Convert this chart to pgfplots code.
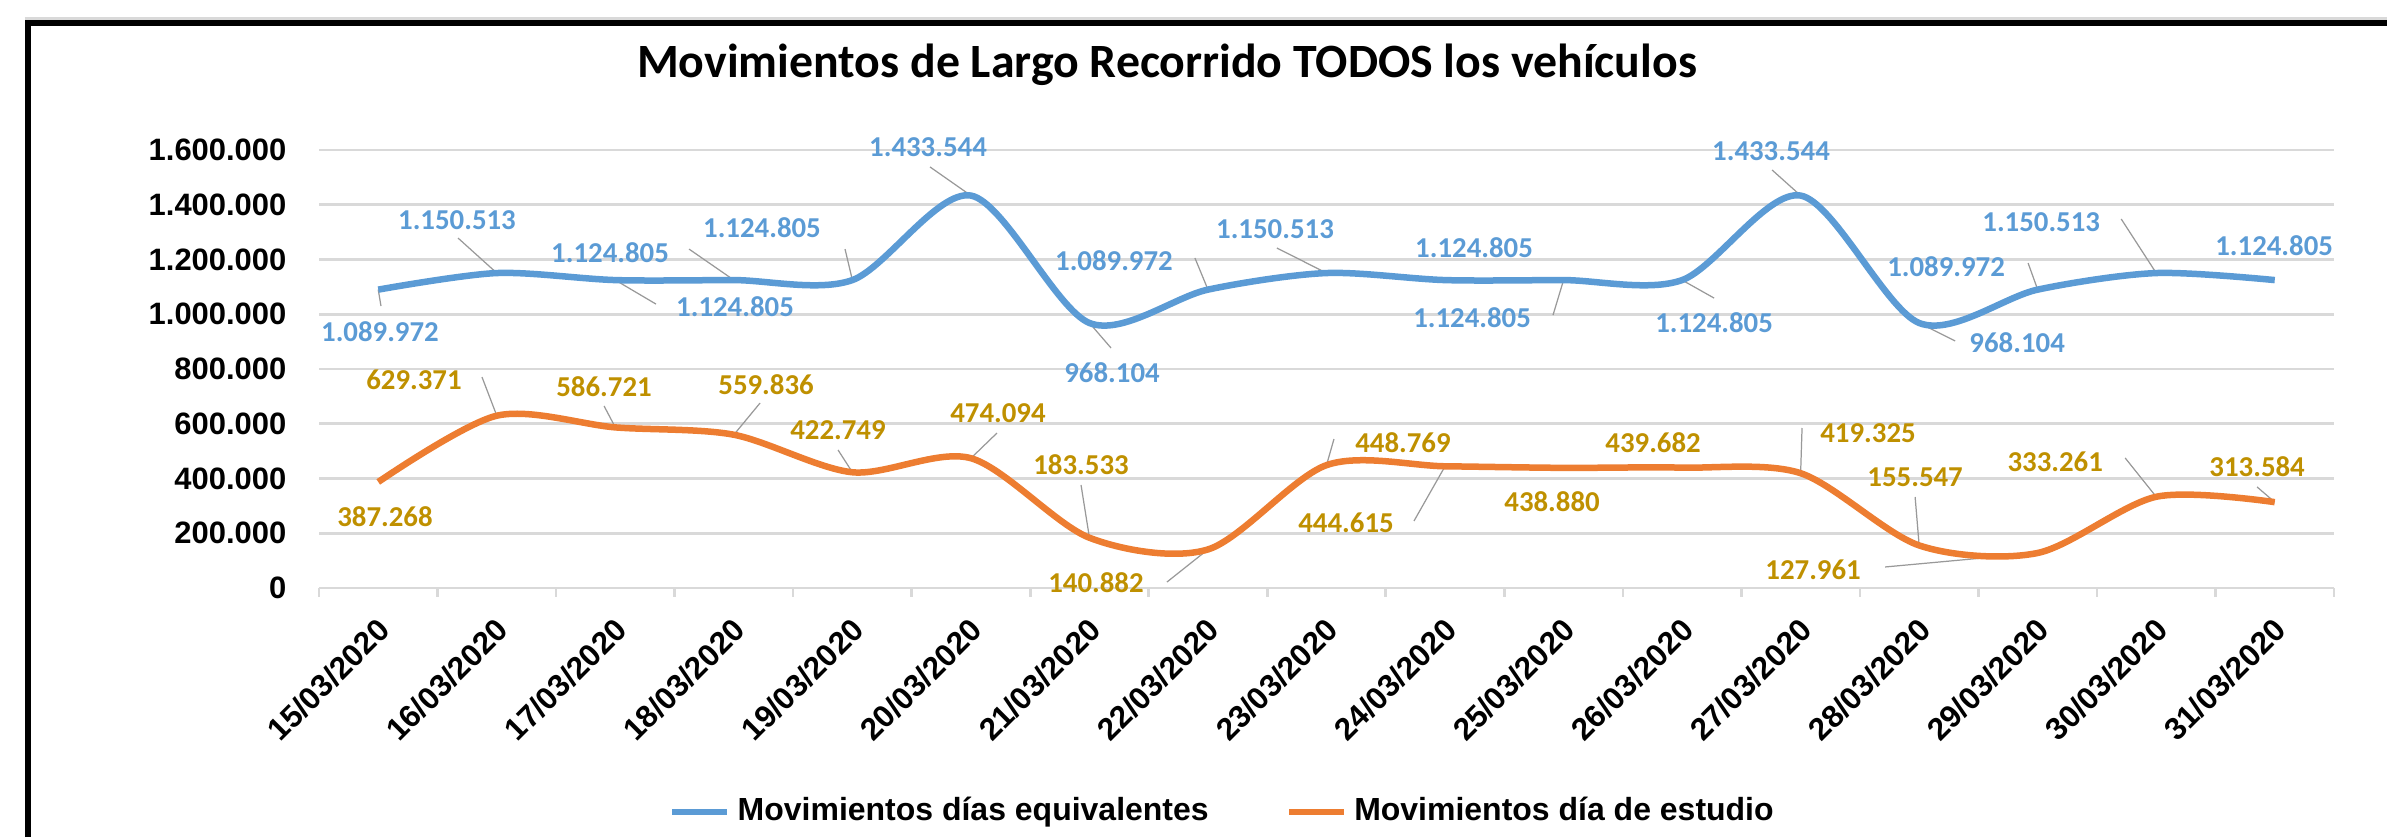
\documentclass[border=0pt]{standalone}
\usepackage{pgfplots}
\pgfplotsset{compat=1.18}
\usepackage{pgfplotstable}
\usepackage{fontspec}
\setmainfont{Liberation Sans}
\newfontfamily\calibri{Carlito}
\definecolor{serieA}{HTML}{5B9BD5}
\definecolor{serieB}{HTML}{ED7D31}
\definecolor{labB}{HTML}{BF9000}
\definecolor{gridc}{HTML}{D9D9D9}

% x = category index, y = value, lab = label text, dx/dy = label offset (mm), u/v = leader line (axis units)
\pgfplotstableread{
x y lab dx dy u v
0 1089972 1.089.972 0.17 -4.24 0.023 -59909
1 1150513 1.150.513 -3.98 5.30 -0.327 127855
2 1124805 1.124.805 11.97 -2.70 0.343 -87672
3 1124805 1.124.805 -12.38 2.70 -0.378 113243
4 1124805 1.124.805 -9.04 5.20 -0.062 113243
5 1433544 1.433.544 -4.29 4.86 -0.345 104476
6 968104 968.104 2.26 -5.00 0.182 -91325
7 1089972 1.089.972 -9.40 2.86 -0.110 115435
8 1150513 1.150.513 -5.15 4.40 -0.418 91325
9 1124805 1.124.805 2.90 3.20 0 0
10 1124805 1.124.805 -9.15 -3.80 -0.089 -127855
11 1124805 1.124.805 3.20 -4.30 0.270 -65754
12 1433544 1.433.544 -2.96 4.46 -0.241 93517
13 968104 968.104 9.80 -2.00 0.304 -65754
14 1089972 1.089.972 -9.16 2.26 -0.081 97170
15 1150513 1.150.513 -11.50 5.10 -0.295 197262
16 1124805 1.124.805 -0.06 3.40 0 0
}\equiv

\pgfplotstableread{
x y lab dx dy u v
0 387268 387.268 0.67 -3.50 0 0
1 629371 629.371 -8.28 3.57 -0.125 141371
2 586721 586.721 -1.13 4.04 -0.095 78174
3 559836 559.836 3.22 4.97 0.221 115800
4 422749 422.749 -1.44 4.23 -0.121 81462
5 474094 474.094 2.71 4.52 0.220 92056
6 183533 183.533 -0.84 7.28 -0.071 192878
7 140882 140.882 -11.20 -3.36 -0.346 -119088
8 448769 448.769 7.65 2.21 0.063 95343
9 444615 444.615 -9.90 -5.67 -0.262 -199819
10 438880 438.880 -1.15 -3.41 0 0
11 439682 439.682 -2.90 2.46 0 0
12 419325 419.325 6.74 4.02 0.012 165116
13 155547 155.547 -0.40 6.84 -0.034 176805
14 127961 127.961 -22.46 -1.70 -1.287 -51142
15 333261 333.261 -10.10 3.48 -0.262 141736
16 313584 313.584 -1.76 3.52 -0.149 55526
}\estudio

\begin{document}
\begin{tikzpicture}
% frame
\draw[gridc, line width=0.3mm] (2.45mm,81.85mm) -- (238.7mm,81.85mm);
\draw[black, line width=0.6mm, line join=miter] (2.75mm,0mm) -- (2.75mm,81.35mm) -- (238.7mm,81.35mm);
% title
\node[anchor=base, inner sep=0pt] at (116.7mm,75.9mm)
  {\calibri\bfseries\fontsize{13.6}{16}\selectfont Movimientos de Largo Recorrido TODOS los vehículos};

\begin{axis}[
  at={(31.9mm,24.9mm)}, anchor=south west,
  scale only axis, width=201.5mm, height=43.8mm,
  xmin=-0.5, xmax=16.5, ymin=0, ymax=1600000,
  clip=false,
  axis x line*=bottom, axis y line*=left,
  y axis line style={draw=none},
  x axis line style={draw=gridc, line width=0.75pt, -},
  xtick={0,...,16},
  xticklabels={15/03/2020,16/03/2020,17/03/2020,18/03/2020,19/03/2020,20/03/2020,21/03/2020,22/03/2020,23/03/2020,24/03/2020,25/03/2020,26/03/2020,27/03/2020,28/03/2020,29/03/2020,30/03/2020,31/03/2020},
  minor xtick={-0.5,0.5,...,16.5},
  major tick length=0pt, minor tick length=0.9mm, tick align=outside,
  minor x tick style={draw=gridc, line width=0.75pt},
  ytick={0,200000,...,1600000},
  ymajorgrids, grid style={draw=gridc, line width=0.75pt},
  scaled y ticks=false,
  yticklabel style={/pgf/number format/fixed, /pgf/number format/precision=0,
    /pgf/number format/1000 sep={.}, /pgf/number format/assume math mode=true,
    font=\bfseries\fontsize{8.8}{10}\selectfont, inner sep=0pt, xshift=-3.2mm},
  xticklabel style={xshift=0.6mm, yshift=-3.6mm, rotate=45, anchor=east, inner sep=0pt,
    font=\bfseries\fontsize{8.9}{10}\selectfont},
  legend columns=2,
  legend style={draw=none, at={(axis description cs:0.4496,-0.511)}, anchor=center,
    font=\bfseries\fontsize{9.1}{11}\selectfont,
    /tikz/every even column/.append style={column sep=7mm}},
  legend image code/.code={\draw[#1, line width=0.65mm] (0mm,0mm) -- (5.5mm,0mm);},
]
% leader lines
\addplot[forget plot, draw=gray!80, line width=0.35pt, quiver={u=\thisrow{u}, v=\thisrow{v}}]
  table[x=x, y=y] {\equiv};
\addplot[forget plot, draw=gray!80, line width=0.35pt, quiver={u=\thisrow{u}, v=\thisrow{v}}]
  table[x=x, y=y] {\estudio};
% series
\addplot[serieA, line width=0.65mm, smooth, tension=0.5, no marks] table[x=x, y=y] {\equiv};
\addlegendentry{Movimientos días equivalentes}
\addplot[serieB, line width=0.65mm, smooth, tension=0.5, no marks] table[x=x, y=y] {\estudio};
\addlegendentry{Movimientos día de estudio}
% data labels
\addplot[forget plot, draw=none, no marks, point meta=explicit symbolic, nodes near coords,
  visualization depends on={\thisrow{dx} \as \ldx},
  visualization depends on={\thisrow{dy} \as \ldy},
  every node near coord/.append style={anchor=center, inner sep=0pt, xshift=\ldx mm, yshift=\ldy mm,
    text=serieA, font=\calibri\bfseries\fontsize{8.2}{10}\selectfont}]
  table[x=x, y=y, meta=lab] {\equiv};
\addplot[forget plot, draw=none, no marks, point meta=explicit symbolic, nodes near coords,
  visualization depends on={\thisrow{dx} \as \ldx},
  visualization depends on={\thisrow{dy} \as \ldy},
  every node near coord/.append style={anchor=center, inner sep=0pt, xshift=\ldx mm, yshift=\ldy mm,
    text=labB, font=\calibri\bfseries\fontsize{8.2}{10}\selectfont}]
  table[x=x, y=y, meta=lab] {\estudio};
\end{axis}
\pgfresetboundingbox
\path[use as bounding box] (0,0) rectangle (238.7mm,83.7mm);
\end{tikzpicture}
\end{document}
